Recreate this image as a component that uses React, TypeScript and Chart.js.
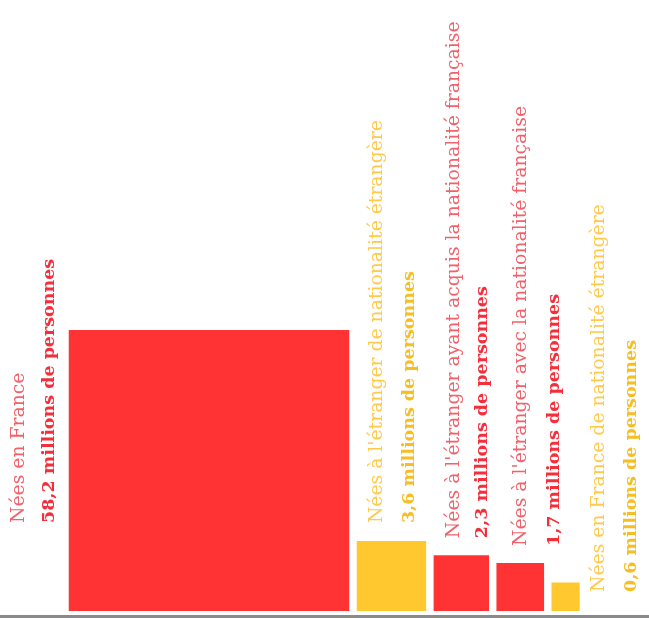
import React, { useEffect, useRef } from "react";
import { Chart, registerables } from "chart.js";

Chart.register(...registerables);

// ---- data ----
const categories = [
  "Nées en France",
  "Nées à l'étranger de nationalité étrangère",
  "Nées à l'étranger ayant acquis la nationalité française",
  "Nées à l'étranger avec la nationalité française",
  "Nées en France de nationalité étrangère",
];
const values = [58.2, 3.6, 2.3, 1.7, 0.6]; // millions de personnes
const valueLabels = [
  "58,2 millions de personnes",
  "3,6 millions de personnes",
  "2,3 millions de personnes",
  "1,7 millions de personnes",
  "0,6 millions de personnes",
];
const colorKinds = ["red", "yellow", "red", "red", "yellow"];

// ---- styling / layout ----
const W = 649;
const H = 618;
const BASE_Y = 611; // pixel of y = 0
const PX_PER_UNIT = 281 / Math.sqrt(58.2); // square side (px) per sqrt(million)
const START_PX = 68.5;
const GAP_PX = 7;
const FILL = { red: "#FF3333", yellow: "#FFC82E" };
const LABEL_COLOR = { red: "#F2606A", yellow: "#FFC94A" };
const VALUE_COLOR = { red: "#F42F3C", yellow: "#F7BE22" };
// label placement: [anchor, labelDx, valueDx, dy]
// anchor: "L" = left of square, "T" = above square from left edge, "R" = right of square
const labelPlacement: [string, number, number, number][] = [
  ["L", -45, -15, -88],
  ["T", 25, 57, -18],
  ["T", 26, 54, -17],
  ["T", 30, 63, -17],
  ["R", 24, 56, -19],
];

const FONT_FAMILY = "'DejaVu Serif', serif";
const LABEL_FONT = `18.8px ${FONT_FAMILY}`;
const VALUE_FONT = `bold 17.5px ${FONT_FAMILY}`;

export default function App() {
  const ref = useRef<HTMLCanvasElement | null>(null);

  useEffect(() => {
    if (!ref.current) return;
    const U = PX_PER_UNIT;
    // build square geometry in data units (side = sqrt(value) so area ~ value)
    let cursor = START_PX / U;
    const squares = values.map((v) => {
      const side = Math.sqrt(v);
      const x0 = cursor;
      const x1 = cursor + side;
      cursor = x1 + GAP_PX / U;
      return { x0, x1, side };
    });

    const datasets: any[] = squares.map((sq, i) => ({
      label: categories[i],
      data: [
        { x: sq.x0, y: sq.side },
        { x: sq.x1, y: sq.side },
      ],
      showLine: true,
      fill: "origin",
      backgroundColor: (FILL as any)[colorKinds[i]],
      borderColor: (FILL as any)[colorKinds[i]],
      borderWidth: 0,
      pointRadius: 0,
      pointHoverRadius: 0,
      tension: 0,
    }));

    const baselinePlugin = {
      id: "baseline",
      afterDraw(chart: any) {
        const ctx = chart.ctx;
        ctx.save();
        ctx.fillStyle = "#8a8a8a";
        ctx.fillRect(0, 615, W, 3);
        ctx.restore();
      },
    };

    const labelPlugin = {
      id: "rotLabels",
      afterDatasetsDraw(chart: any) {
        const ctx = chart.ctx;
        const xs = chart.scales.x;
        const ys = chart.scales.y;
        squares.forEach((sq, i) => {
          const left = xs.getPixelForValue(sq.x0);
          const right = xs.getPixelForValue(sq.x1);
          const top = ys.getPixelForValue(sq.side);
          const bottom = ys.getPixelForValue(0);
          const [anchor, ldx, vdx, dy] = labelPlacement[i];
          let ax: number, ay: number;
          if (anchor === "L") {
            ax = left;
            ay = bottom + dy;
          } else if (anchor === "R") {
            ax = right;
            ay = bottom + dy;
          } else {
            ax = left;
            ay = top + dy;
          }
          const kind = colorKinds[i];
          const draw = (text: string, x: number, font: string, color: string) => {
            ctx.save();
            ctx.translate(x, ay);
            ctx.rotate(-Math.PI / 2);
            ctx.font = font;
            ctx.fillStyle = color;
            ctx.textAlign = "left";
            ctx.textBaseline = "alphabetic";
            ctx.fillText(text, 0, 0);
            ctx.restore();
          };
          draw(categories[i], ax + ldx, LABEL_FONT, (LABEL_COLOR as any)[kind]);
          draw(valueLabels[i], ax + vdx, VALUE_FONT, (VALUE_COLOR as any)[kind]);
        });
      },
    };

    const chart = new Chart(ref.current, {
      type: "scatter",
      data: { datasets },
      options: {
        animation: false,
        responsive: false,
        maintainAspectRatio: false,
        layout: { padding: 0 },
        plugins: {
          legend: { display: false },
          tooltip: { enabled: false },
          title: { display: false },
        },
        scales: {
          x: { type: "linear", display: false, min: 0, max: W / U },
          y: { type: "linear", display: false, min: -(H - BASE_Y) / U, max: BASE_Y / U },
        },
      },
      plugins: [baselinePlugin, labelPlugin],
    });
    return () => chart.destroy();
  }, []);

  return (
    <div style={{ position: "fixed", left: 0, top: 0, width: W, height: H, background: "#fff" }}>
      <canvas ref={ref} width={W} height={H} style={{ width: W, height: H, display: "block" }} />
    </div>
  );
}
